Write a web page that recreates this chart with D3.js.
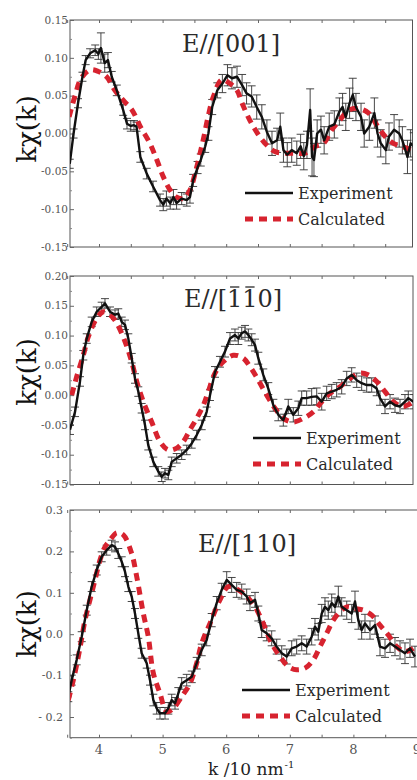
<!DOCTYPE html>
<html><head><meta charset="utf-8">
<script src="https://cdn.jsdelivr.net/npm/d3@7"></script>
<style>body{margin:0;background:#fff}svg{display:block}</style>
</head><body>
<svg id="chart" width="417" height="780"></svg>
<script>
// ---- data ----
const kTicks = [4, 5, 6, 7, 8, 9];
const kTickLabels = ["4", "5", "6", "7", "8", "9"];
const legendLabels = ["Experiment", "Calculated"];

// [k, kχ(k), error]
const exp001 = [[3.54,-0.040,0.006],[3.60,0.000,0.006],[3.67,0.040,0.006],[3.74,0.075,0.006],[3.79,0.097,0.006],[3.86,0.106,0.006],[3.94,0.110,0.007],[3.99,0.105,0.007],[4.03,0.113,0.020],[4.09,0.093,0.012],[4.14,0.097,0.010],[4.20,0.075,0.007],[4.28,0.057,0.007],[4.38,0.031,0.007],[4.44,0.013,0.007],[4.50,0.010,0.007],[4.55,0.011,0.006],[4.59,0.009,0.006],[4.65,-0.031,0.007],[4.75,-0.053,0.007],[4.85,-0.070,0.007],[4.96,-0.088,0.008],[5.01,-0.094,0.008],[5.06,-0.086,0.010],[5.12,-0.092,0.008],[5.17,-0.084,0.010],[5.22,-0.092,0.008],[5.30,-0.086,0.008],[5.38,-0.088,0.008],[5.43,-0.084,0.008],[5.48,-0.062,0.008],[5.55,-0.045,0.008],[5.60,-0.035,0.008],[5.67,-0.017,0.008],[5.72,0.000,0.009],[5.78,0.035,0.010],[5.86,0.057,0.010],[5.94,0.066,0.012],[6.02,0.077,0.014],[6.09,0.073,0.014],[6.17,0.075,0.014],[6.25,0.064,0.014],[6.32,0.053,0.014],[6.40,0.049,0.014],[6.48,0.035,0.016],[6.56,0.022,0.016],[6.64,0.002,0.016],[6.72,-0.013,0.016],[6.80,-0.009,0.016],[6.85,0.009,0.018],[6.90,-0.022,0.016],[6.96,-0.028,0.016],[7.03,-0.022,0.016],[7.11,-0.026,0.016],[7.17,-0.017,0.016],[7.22,-0.030,0.018],[7.27,-0.015,0.018],[7.32,0.031,0.028],[7.35,-0.031,0.025],[7.38,-0.035,0.022],[7.43,0.000,0.018],[7.49,0.005,0.018],[7.54,-0.009,0.018],[7.62,0.009,0.018],[7.70,0.012,0.018],[7.78,0.029,0.018],[7.83,0.035,0.018],[7.88,0.022,0.018],[7.94,0.040,0.020],[7.99,0.051,0.022],[8.04,0.035,0.018],[8.12,0.022,0.018],[8.17,0.000,0.018],[8.25,0.009,0.018],[8.33,0.027,0.020],[8.38,0.000,0.018],[8.43,-0.013,0.018],[8.51,-0.022,0.018],[8.56,-0.004,0.018],[8.64,0.005,0.020],[8.72,0.000,0.018],[8.77,-0.009,0.018],[8.85,-0.031,0.022],[8.90,-0.013,0.018],[8.95,-0.017,0.018]];
const calc001 = [[3.53,0.022],[3.62,0.049],[3.72,0.073],[3.86,0.084],[3.99,0.082],[4.12,0.075],[4.25,0.057],[4.38,0.044],[4.52,0.031],[4.65,0.009],[4.80,-0.013],[4.91,-0.035],[5.01,-0.057],[5.12,-0.075],[5.22,-0.084],[5.33,-0.086],[5.43,-0.075],[5.51,-0.053],[5.59,-0.026],[5.65,-0.004],[5.72,0.024],[5.80,0.049],[5.93,0.071],[6.06,0.066],[6.17,0.057],[6.25,0.040],[6.40,0.013],[6.61,-0.013],[6.77,-0.024],[6.93,-0.026],[7.08,-0.026],[7.24,-0.026],[7.40,-0.017],[7.53,-0.013],[7.66,0.005],[7.79,0.018],[7.93,0.031],[8.08,0.033],[8.24,0.027],[8.37,0.011],[8.50,-0.004],[8.63,-0.013],[8.76,-0.017],[8.92,-0.022]];

const exp1m10 = [[3.544,-0.058,0.008],[3.623,-0.028,0.008],[3.701,0.023,0.008],[3.753,0.067,0.008],[3.807,0.095,0.008],[3.885,0.123,0.008],[3.964,0.140,0.008],[4.042,0.148,0.008],[4.094,0.154,0.008],[4.173,0.140,0.008],[4.252,0.135,0.008],[4.303,0.137,0.008],[4.357,0.123,0.008],[4.409,0.118,0.008],[4.461,0.095,0.008],[4.514,0.062,0.008],[4.566,0.028,0.008],[4.618,0.006,0.008],[4.671,-0.022,0.008],[4.723,-0.050,0.008],[4.775,-0.084,0.008],[4.854,-0.112,0.008],[4.932,-0.128,0.008],[4.986,-0.137,0.008],[5.038,-0.131,0.008],[5.090,-0.134,0.008],[5.143,-0.112,0.008],[5.222,-0.106,0.008],[5.300,-0.100,0.008],[5.379,-0.092,0.008],[5.458,-0.081,0.008],[5.536,-0.067,0.008],[5.615,-0.050,0.008],[5.693,-0.028,0.008],[5.745,0.000,0.009],[5.824,0.039,0.009],[5.902,0.056,0.009],[5.981,0.073,0.009],[6.060,0.095,0.010],[6.138,0.101,0.010],[6.190,0.095,0.010],[6.244,0.104,0.010],[6.296,0.107,0.010],[6.348,0.101,0.010],[6.401,0.093,0.010],[6.453,0.084,0.010],[6.505,0.062,0.010],[6.583,0.034,0.010],[6.662,0.011,0.010],[6.741,-0.017,0.010],[6.819,-0.033,0.010],[6.898,-0.042,0.010],[6.976,-0.019,0.012],[7.055,-0.033,0.012],[7.134,-0.022,0.012],[7.187,-0.005,0.012],[7.265,-0.005,0.012],[7.344,-0.003,0.014],[7.423,-0.002,0.014],[7.502,-0.011,0.014],[7.580,0.003,0.012],[7.659,0.006,0.012],[7.737,0.009,0.012],[7.816,0.014,0.012],[7.895,0.028,0.012],[7.973,0.034,0.012],[8.052,0.025,0.012],[8.130,0.020,0.012],[8.209,0.017,0.012],[8.288,0.017,0.012],[8.366,0.011,0.012],[8.418,-0.005,0.012],[8.497,-0.019,0.012],[8.576,-0.011,0.012],[8.654,-0.017,0.012],[8.733,-0.019,0.012],[8.811,-0.011,0.012],[8.863,-0.005,0.012],[8.942,-0.011,0.012]];
const calc1m10 = [[3.571,0.000],[3.649,0.031],[3.753,0.067],[3.832,0.098],[3.964,0.129],[4.068,0.140],[4.173,0.135],[4.278,0.121],[4.409,0.090],[4.514,0.056],[4.593,0.023],[4.697,-0.011],[4.829,-0.045],[4.959,-0.078],[5.090,-0.092],[5.222,-0.089],[5.326,-0.078],[5.431,-0.058],[5.536,-0.039],[5.640,-0.017],[5.718,0.006],[5.824,0.037],[5.954,0.056],[6.112,0.067],[6.269,0.062],[6.374,0.048],[6.505,0.025],[6.637,0.000],[6.767,-0.022],[6.898,-0.039],[7.055,-0.045],[7.212,-0.039],[7.369,-0.028],[7.502,-0.011],[7.632,0.003],[7.789,0.014],[7.947,0.028],[8.104,0.037],[8.234,0.034],[8.366,0.023],[8.497,0.006],[8.627,-0.011],[8.784,-0.019],[8.942,-0.011]];

const exp110 = [[3.517,-0.151,0.012],[3.571,-0.111,0.012],[3.649,-0.062,0.012],[3.728,-0.006,0.012],[3.807,0.058,0.012],[3.885,0.115,0.012],[3.964,0.155,0.012],[4.042,0.187,0.012],[4.121,0.203,0.012],[4.200,0.215,0.012],[4.252,0.211,0.012],[4.303,0.195,0.012],[4.357,0.175,0.012],[4.409,0.151,0.012],[4.461,0.115,0.012],[4.514,0.091,0.012],[4.566,0.050,0.012],[4.618,0.002,0.012],[4.671,-0.046,0.012],[4.750,-0.070,0.012],[4.802,-0.111,0.012],[4.854,-0.159,0.014],[4.907,-0.179,0.014],[4.959,-0.191,0.014],[5.038,-0.191,0.014],[5.090,-0.179,0.014],[5.143,-0.159,0.014],[5.195,-0.167,0.014],[5.247,-0.143,0.014],[5.300,-0.119,0.014],[5.379,-0.111,0.014],[5.458,-0.103,0.014],[5.536,-0.070,0.014],[5.615,-0.038,0.014],[5.693,-0.014,0.014],[5.772,0.034,0.016],[5.850,0.075,0.016],[5.929,0.107,0.016],[6.008,0.131,0.020],[6.086,0.119,0.018],[6.165,0.107,0.018],[6.244,0.103,0.018],[6.322,0.091,0.018],[6.374,0.075,0.018],[6.453,0.083,0.018],[6.505,0.050,0.018],[6.558,0.010,0.018],[6.637,0.002,0.018],[6.715,-0.010,0.018],[6.794,-0.030,0.018],[6.873,-0.046,0.018],[6.951,-0.054,0.018],[7.030,-0.034,0.018],[7.108,-0.030,0.018],[7.187,-0.022,0.018],[7.265,-0.030,0.018],[7.344,-0.006,0.020],[7.396,0.018,0.020],[7.448,0.006,0.020],[7.502,0.050,0.022],[7.553,0.066,0.022],[7.605,0.058,0.022],[7.659,0.075,0.022],[7.711,0.066,0.022],[7.763,0.091,0.025],[7.816,0.066,0.022],[7.895,0.058,0.022],[7.973,0.050,0.022],[8.025,0.079,0.025],[8.077,0.034,0.022],[8.130,0.010,0.022],[8.182,0.026,0.022],[8.261,0.010,0.022],[8.340,0.022,0.022],[8.418,-0.030,0.022],[8.497,-0.034,0.022],[8.576,-0.022,0.022],[8.654,-0.030,0.022],[8.733,-0.038,0.022],[8.811,-0.046,0.025],[8.890,-0.034,0.022],[8.968,-0.054,0.025]];
const calc110 = [[3.517,-0.159],[3.596,-0.111],[3.675,-0.054],[3.728,-0.010],[3.780,0.034],[3.858,0.083],[3.937,0.131],[4.016,0.179],[4.094,0.211],[4.173,0.227],[4.278,0.245],[4.382,0.240],[4.514,0.195],[4.593,0.139],[4.697,0.050],[4.775,-0.006],[4.854,-0.094],[4.959,-0.143],[5.064,-0.187],[5.168,-0.179],[5.300,-0.151],[5.431,-0.119],[5.536,-0.070],[5.615,-0.022],[5.745,0.026],[5.902,0.083],[6.033,0.115],[6.190,0.107],[6.322,0.091],[6.453,0.066],[6.583,0.026],[6.715,-0.022],[6.846,-0.054],[6.976,-0.078],[7.108,-0.086],[7.239,-0.082],[7.369,-0.062],[7.475,-0.030],[7.580,0.002],[7.684,0.034],[7.789,0.054],[7.895,0.066],[8.025,0.062],[8.156,0.058],[8.288,0.046],[8.418,0.022],[8.549,-0.002],[8.681,-0.030],[8.811,-0.042],[8.942,-0.034]];

const yTicks001 = [-0.15,-0.10,-0.05,0,0.05,0.10,0.15];
const yLabels001 = ["-0.15","-0.10","-0.05","0.00","0.05","0.10","0.15"];
const yTicks1m10 = [-0.15,-0.10,-0.05,0,0.05,0.10,0.15,0.20];
const yLabels1m10 = ["-0.15","-0.10","-0.05","0.00","0.05","0.10","0.15","0.20"];
const yTicks110 = [-0.2,-0.1,0,0.1,0.2,0.3];
const yLabels110 = ["- 0.2","-0.1","0.0","0.1","0.2","0.3"];

const titles = ["E//[001]", "E//[110]", "E//[110]"];
const overlined = [[], [4, 5], []]; // char indices carrying a bar (1̄1̄0)

// ---- layout ----
const svg = d3.select("#chart");
const RED = "#d7232f";
const x = d3.scaleLinear().domain([3.544, 9.0]).range([70, 417]);

const panels = [
  {exp: exp001, calc: calc001, yDom: [-0.15, 0.15], top: 20, bottom: 247, right: 412.5,
   ticks: yTicks001, labels: yLabels001, minor: 0.025, labFs: 10.5, labX: 68,
   titleX: 182, titleY: 52, legX: 245, legY: 193, ylabY: 129},
  {exp: exp1m10, calc: calc1m10, yDom: [-0.15, 0.20], top: 276, bottom: 484.5, right: 413,
   ticks: yTicks1m10, labels: yLabels1m10, minor: 0.025, labFs: 10.5, labX: 68,
   titleX: 184, titleY: 307, legX: 253, legY: 438, ylabY: 372},
  {exp: exp110, calc: calc110, yDom: [-0.25, 0.30], top: 510, bottom: 737.7, right: 420,
   ticks: yTicks110, labels: yLabels110, minor: 0.05, labFs: 11, labX: 63,
   titleX: 198, titleY: 552, legX: 242, legY: 690, ylabY: 624}
];

const serif = "'DejaVu Serif', 'Liberation Serif', serif";

panels.forEach((p, i) => {
  const y = d3.scaleLinear().domain(p.yDom).range([p.bottom, p.top]);
  const g = svg.append("g");
  const cid = "clip" + i;
  svg.append("clipPath").attr("id", cid).append("rect")
    .attr("x", 70).attr("y", p.top).attr("width", p.right - 70).attr("height", p.bottom - p.top);

  // frame
  g.append("rect").attr("x", 70).attr("y", p.top).attr("width", p.right - 70).attr("height", p.bottom - p.top)
    .attr("fill", "none").attr("stroke", "#555").attr("stroke-width", 1);

  // y axis (ticks inward)
  const ya = g.append("g").attr("transform", "translate(70,0)")
    .call(d3.axisRight(y).tickValues(p.ticks).tickSize(4).tickFormat(""));
  ya.select(".domain").remove();
  ya.selectAll("line").attr("stroke", "#666");
  const minorVals = d3.range(p.yDom[0], p.yDom[1] + 1e-9, p.minor).filter(v => !p.ticks.some(t => Math.abs(t - v) < 1e-6));
  const yaMin = g.append("g").attr("transform", "translate(70,0)")
    .call(d3.axisRight(y).tickValues(minorVals).tickSize(2).tickFormat(""));
  yaMin.select(".domain").remove();
  yaMin.selectAll("line").attr("stroke", "#888");
  p.ticks.forEach((t, j) => {
    g.append("text").attr("x", p.labX).attr("y", y(t)).attr("dy", "0.35em")
      .attr("text-anchor", "end").attr("font-family", serif).attr("font-size", p.labFs)
      .attr("fill", "#555").text(p.labels[j]);
  });

  // x ticks bottom & top (inward)
  const xMinor = d3.range(3.5, 9.01, 0.5);
  const xb = g.append("g").attr("transform", `translate(0,${p.bottom})`)
    .call(d3.axisTop(x).tickValues(xMinor).tickSize(3).tickFormat(""));
  xb.select(".domain").remove();
  xb.selectAll("line").attr("stroke", "#666");
  const xt = g.append("g").attr("transform", `translate(0,${p.top})`)
    .call(d3.axisBottom(x).tickValues(xMinor).tickSize(3).tickFormat(""));
  xt.select(".domain").remove();
  xt.selectAll("line").attr("stroke", "#666");

  const plot = g.append("g").attr("clip-path", `url(#${cid})`);

  // error bars
  const eb = plot.append("g").attr("stroke", "#333").attr("stroke-width", 0.9);
  p.exp.forEach(d => {
    const xx = x(d[0]), y1 = y(d[1] - d[2]), y2 = y(d[1] + d[2]);
    eb.append("line").attr("x1", xx).attr("x2", xx).attr("y1", y1).attr("y2", y2);
    eb.append("line").attr("x1", xx - 4).attr("x2", xx + 4).attr("y1", y1).attr("y2", y1);
    eb.append("line").attr("x1", xx - 4).attr("x2", xx + 4).attr("y1", y2).attr("y2", y2);
  });

  // calculated (red dashed)
  plot.append("path").datum(p.calc)
    .attr("d", d3.line().x(d => x(d[0])).y(d => y(d[1])).curve(d3.curveCatmullRom))
    .attr("fill", "none").attr("stroke", RED).attr("stroke-width", 5).attr("stroke-dasharray", "8,6");

  // experiment (black)
  plot.append("path").datum(p.exp)
    .attr("d", d3.line().x(d => x(d[0])).y(d => y(d[1])))
    .attr("fill", "none").attr("stroke", "#111").attr("stroke-width", 2.4).attr("stroke-linejoin", "round");

  // title
  const tt = g.append("text").attr("x", p.titleX).attr("y", p.titleY)
    .attr("font-family", serif).attr("font-size", 24).attr("fill", "#2a2a2a").text(titles[i]);
  overlined[i].forEach(ci => {
    const ext = tt.node().getExtentOfChar(ci);
    g.append("line").attr("x1", ext.x + 3).attr("x2", ext.x + ext.width - 3)
      .attr("y1", p.titleY - 20).attr("y2", p.titleY - 20)
      .attr("stroke", "#2a2a2a").attr("stroke-width", 1.3);
  });

  // legend
  g.append("line").attr("x1", p.legX).attr("x2", p.legX + 48).attr("y1", p.legY).attr("y2", p.legY)
    .attr("stroke", "#111").attr("stroke-width", 2.4);
  g.append("line").attr("x1", p.legX).attr("x2", p.legX + 48).attr("y1", p.legY + 26).attr("y2", p.legY + 26)
    .attr("stroke", RED).attr("stroke-width", 5).attr("stroke-dasharray", "8,6");
  legendLabels.forEach((s, j) => {
    g.append("text").attr("x", p.legX + 53).attr("y", p.legY + j * 26).attr("dy", "0.35em")
      .attr("font-family", serif).attr("font-size", 16).attr("fill", "#2a2a2a").text(s);
  });

  // y label
  svg.append("text").attr("transform", `translate(36,${p.ylabY}) rotate(-90)`)
    .attr("text-anchor", "middle").attr("font-family", serif).attr("font-size", 26).attr("fill", "#111")
    .text("kχ(k)");
});

// x tick labels (bottom panel only)
const last = panels[2];
kTicks.forEach((k, j) => {
  svg.append("text").attr("x", x(k)).attr("y", last.bottom + 16.5).attr("text-anchor", "middle")
    .attr("font-family", serif).attr("font-size", 13).attr("fill", "#555").text(kTickLabels[j]);
});
const xl = svg.append("text").attr("x", 208).attr("y", 775)
  .attr("font-family", serif).attr("font-size", 17).attr("fill", "#222").text("k /10 nm");
const xlEnd = 208 + xl.node().getComputedTextLength();
svg.append("text").attr("x", xlEnd + 1).attr("y", 768)
  .attr("font-family", serif).attr("font-size", 10).attr("fill", "#222").text("-1");
</script>
</body></html>
